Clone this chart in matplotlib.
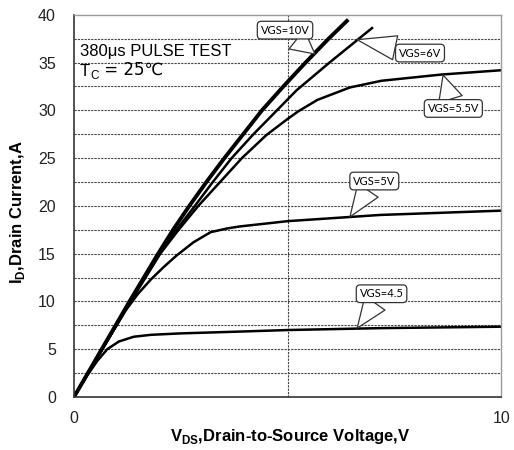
import matplotlib
matplotlib.use("Agg")
import matplotlib.pyplot as plt

plt.rcParams['font.family'] = ['Liberation Sans', 'DejaVu Sans']

# output curves (VDS in V, ID in A)
vds_10 = [0, 0.65, 1.3, 1.97, 2.32, 2.7, 3.1, 3.52, 3.96, 4.4, 4.9, 5.42, 5.96, 6.42]
id_10 = [0, 5, 10, 15, 17.5, 20, 22.5, 25, 27.5, 30, 32.5, 35, 37.5, 39.5]

vds_6 = [0, 0.66, 1.32, 1.98, 2.4, 2.83, 3.25, 3.69, 4.2, 4.75, 5.21, 5.98, 7.0]
id_6 = [0, 5, 10, 15, 17.5, 20, 22.5, 25, 27.5, 30, 32.1, 35, 38.7]

vds_55 = [0, 0.66, 1.33, 2.02, 2.45, 2.91, 3.42, 3.93, 4.5, 5.0, 5.25, 5.7, 6.46, 7.2, 8.6, 10]
id_55 = [0, 5, 10, 15, 17.5, 20, 22.5, 25, 27.4, 29.1, 29.9, 31.1, 32.4, 33.1, 33.75, 34.2]

vds_5 = [0, 0.66, 1.2, 1.5, 1.8, 2.1, 2.4, 2.8, 3.2, 3.6, 3.89, 5.0, 7.17, 10]
id_5 = [0, 5, 9, 10.8, 12.3, 13.6, 14.8, 16.2, 17.25, 17.65, 17.85, 18.4, 19.05, 19.5]

vds_45 = [0, 0.3, 0.55, 0.78, 1.05, 1.4, 1.8, 2.5, 3.89, 5.0, 7.17, 10]
id_45 = [0, 2.2, 3.8, 5.0, 5.8, 6.3, 6.5, 6.65, 6.84, 7.0, 7.2, 7.35]

# callouts: text, box centre, point on curve
labels = ["VGS=10V", "VGS=6V", "VGS=5.5V", "VGS=5V", "VGS=4.5"]
label_xy = [(4.94, 38.4), (8.1, 36.0), (8.88, 30.2), (7.03, 22.6), (7.2, 10.8)]
point_xy = [(5.64, 35.9), (6.63, 37.4), (8.64, 33.7), (6.46, 18.85), (6.63, 7.2)]

fig = plt.figure(figsize=(5.14, 4.5), dpi=100)
ax = fig.add_axes([0.144, 0.118, 0.831, 0.849])

ax.plot(vds_10, id_10, color='black', lw=2.8, solid_capstyle='butt')
ax.plot(vds_6, id_6, color='black', lw=1.8, solid_capstyle='butt')
ax.plot(vds_55, id_55, color='black', lw=1.8, solid_capstyle='butt')
ax.plot(vds_5, id_5, color='black', lw=1.8, solid_capstyle='butt')
ax.plot(vds_45, id_45, color='black', lw=1.8, solid_capstyle='butt')

for y in [2.5 * k for k in range(1, 16)]:
    ax.axhline(y, color='#444444', lw=0.8, ls=(0, (2, 1)), zorder=0)
ax.axvline(5, color='#444444', lw=0.8, ls=(0, (2, 1)), zorder=0)

for txt, lxy, pxy in zip(labels, label_xy, point_xy):
    ax.annotate(txt, xy=pxy, xytext=lxy, ha='center', va='center',
                fontsize=8, family=['Lato', 'DejaVu Sans'],
                bbox=dict(boxstyle='round,pad=0.3,rounding_size=0.35', fc='white', ec='#333333', lw=0.9),
                arrowprops=dict(arrowstyle='wedge,tail_width=2.2', fc='white', ec='#333333', lw=0.9,
                                shrinkA=0, shrinkB=0))

ax.text(0.14, 36.2, "380\u03bcs PULSE TEST", fontsize=12, ha='left', va='center')
t_T = ax.text(0.14, 34.1, "T", fontsize=12, ha='left', va='center')
t_C = ax.annotate("C", xy=(1, 0), xycoords=t_T, xytext=(0.3, -2.5), textcoords='offset points',
                  fontsize=8.5, ha='left', va='bottom')
ax.annotate(" = 25\u2103", xy=(1, 0), xycoords=(t_C, t_T), xytext=(0, 0), textcoords='offset points',
            fontsize=12, ha='left', va='bottom', family=['DejaVu Sans'])

ax.set_xlim(0, 10)
ax.set_ylim(0, 40)
ax.set_xticks([0, 10])
ax.set_yticks(range(0, 41, 5))
ax.tick_params(length=0, labelsize=11.5, colors='#222222')
ax.tick_params(axis='x', pad=10)
ax.tick_params(axis='y', pad=13)

for s in ['left', 'bottom']:
    ax.spines[s].set_color('#333333')
    ax.spines[s].set_linewidth(1.2)
for s in ['top', 'right']:
    ax.spines[s].set_color('#999999')
    ax.spines[s].set_linewidth(1.0)

ax.set_xlabel("V$_{\\mathregular{DS}}$,Drain-to-Source Voltage,V", fontsize=12, fontweight='bold')
ax.set_ylabel("I$_{\\mathregular{D}}$,Drain Current,A", fontsize=12, fontweight='bold')
ax.xaxis.set_label_coords(0.506, -0.08)
ax.yaxis.set_label_coords(-0.11, 0.484)

fig.savefig("out.png", dpi=100)
